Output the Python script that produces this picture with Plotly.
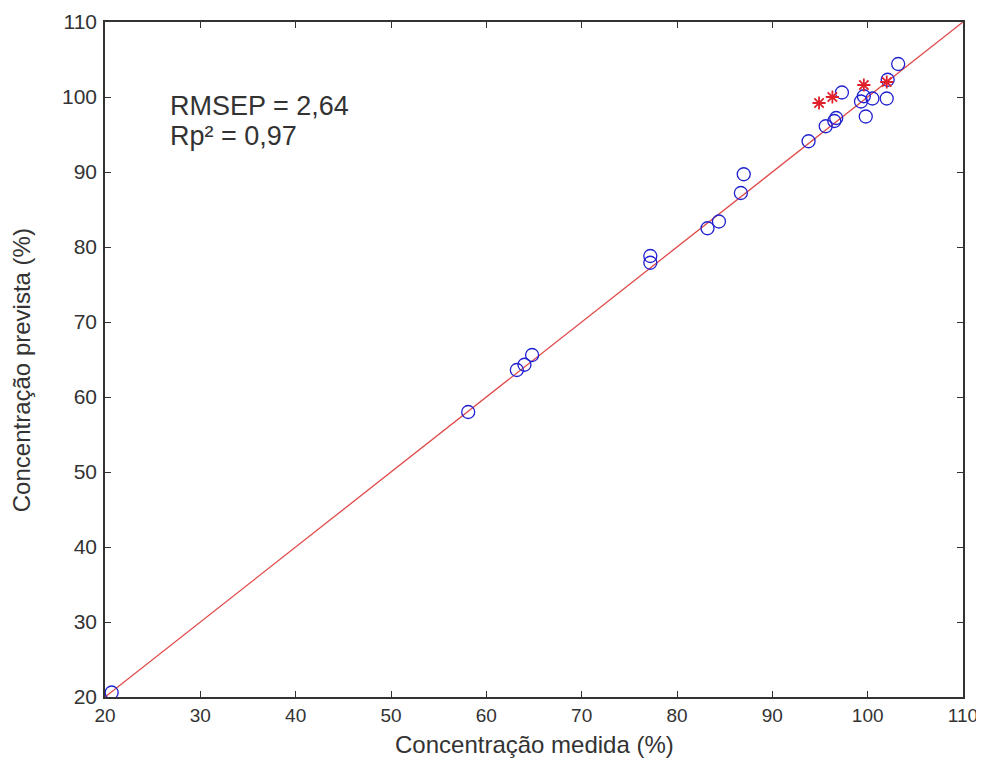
import plotly.graph_objects as go

# Measured vs predicted concentration (%) (blue circles)
x_circles = [20.7, 58.1, 63.2, 64.0, 64.8, 77.2, 77.2, 83.2, 84.4, 86.7, 87.0,
             93.8, 95.6, 96.5, 96.7, 97.3, 99.3, 99.6, 99.8, 100.5, 102.0, 102.1, 103.2]
y_circles = [20.6, 58.0, 63.6, 64.3, 65.6, 78.8, 77.9, 82.5, 83.4, 87.2, 89.7,
             94.1, 96.1, 96.8, 97.2, 100.6, 99.4, 100.1, 97.4, 99.8, 99.8, 102.3, 104.4]

# Red asterisk points
x_stars = [94.9, 96.3, 99.6, 102.0]
y_stars = [99.2, 100.0, 101.6, 102.0]

# Ideal (y = x) line
line_x = [20, 110]
line_y = [20, 110]

tick_vals = [20, 30, 40, 50, 60, 70, 80, 90, 100, 110]
tick_text = ["20", "30", "40", "50", "60", "70", "80", "90", "100", "110"]

FONT = "Liberation Sans, Arial, sans-serif"
TXT = "#333333"

fig = go.Figure()
fig.add_trace(go.Scatter(x=line_x, y=line_y, mode="lines",
                         line=dict(color="#e04848", width=1.3), showlegend=False))
fig.add_trace(go.Scatter(x=x_circles, y=y_circles, mode="markers",
                         marker=dict(symbol="circle-open", size=13, color="#2020d0",
                                     line=dict(width=1.3)), showlegend=False))
fig.add_trace(go.Scatter(x=x_stars, y=y_stars, mode="markers",
                         marker=dict(symbol="asterisk-open", size=11, color="#e0202a",
                                     line=dict(width=1.8, color="#e0202a")), showlegend=False))

axis_common = dict(
    range=[20, 110], tickvals=tick_vals, ticktext=tick_text,
    ticks="inside", ticklen=6, tickwidth=1.3, tickcolor="#333",
    showline=True, linecolor="#333", linewidth=1.6, mirror="ticks",
    showgrid=False, zeroline=False, automargin=False,
)

fig.update_layout(
    width=976, height=753,
    paper_bgcolor="white", plot_bgcolor="white",
    margin=dict(l=97, r=21, t=14, b=64),
    xaxis=dict(**axis_common, ticklabelstandoff=0,
               tickfont=dict(family=FONT, size=19, color=TXT)),
    yaxis=dict(**axis_common, ticklabelstandoff=2,
               tickfont=dict(family=FONT, size=21, color=TXT)),
    annotations=[
        dict(x=26.6, y=98.8, xref="x", yref="y", text="RMSEP = 2,64", showarrow=False,
             xanchor="left", yanchor="middle",
             font=dict(family=FONT, size=27, color=TXT)),
        dict(x=26.6, y=94.8, xref="x", yref="y", text="Rp² = 0,97", showarrow=False,
             xanchor="left", yanchor="middle",
             font=dict(family=FONT, size=27, color=TXT)),
        dict(x=0.5, y=-0.071, xref="paper", yref="paper", text="Concentração medida (%)",
             showarrow=False, xanchor="center", yanchor="middle",
             font=dict(family=FONT, size=24, color=TXT)),
        dict(x=-0.098, y=0.484, xref="paper", yref="paper", text="Concentração prevista (%)",
             showarrow=False, xanchor="center", yanchor="middle", textangle=-90,
             font=dict(family=FONT, size=24, color=TXT)),
    ],
)

fig.write_html("out.html")
